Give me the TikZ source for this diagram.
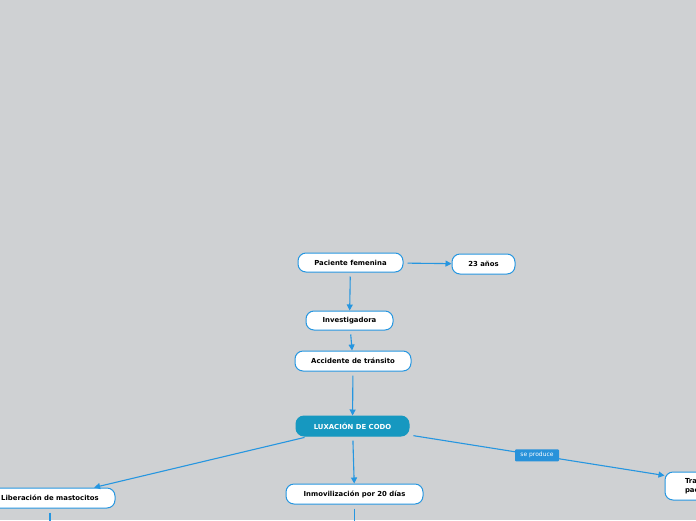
\documentclass[tikz,border=0pt]{standalone}
\usepackage{fontspec}
\setmainfont{DejaVu Sans}
\usetikzlibrary{arrows.meta}
\definecolor{bg}{RGB}{207,209,211}
\definecolor{lnblue}{RGB}{38,150,224}
\definecolor{teal}{RGB}{22,152,192}
\definecolor{lblblue}{RGB}{40,146,218}
\tikzset{
  box/.style={draw=lnblue, line width=1pt, fill=white, rounded corners=8pt, inner sep=0pt,
    font=\fontsize{6.9}{8}\selectfont\bfseries, align=center},
  mainbox/.style={box, fill=teal, draw=teal, text=white},
  arr/.style={draw=lnblue, line width=1.1pt, -{Triangle[length=6pt,width=6pt]}, shorten <=4pt},
  plain/.style={draw=lnblue, line width=1.1pt, shorten <=4pt},
  lbl/.style={fill=lblblue, text=white, inner sep=0pt, minimum width=44pt, minimum height=12pt,
    font=\fontsize{6}{7}\selectfont, rounded corners=1pt}
}
\begin{document}
\begin{tikzpicture}[x=1pt,y=-1pt]
\fill[bg] (0,0) rectangle (696,520);
\useasboundingbox (0,0) rectangle (696,520);
\node[box, minimum width=105pt, minimum height=19pt] (pac) at (350.5,262.5) {Paciente femenina};
\node[box, minimum width=63pt, minimum height=20pt] (age) at (483.5,264) {23 años};
\node[box, minimum width=87pt, minimum height=19pt] (inv) at (349.5,320.5) {Investigadora};
\node[box, minimum width=116pt, minimum height=20pt] (acc) at (353,361) {Accidente de tránsito};
\node[mainbox, minimum width=113pt, minimum height=20pt] (lux) at (352.5,426) {LUXACIÓN DE CODO};
\node[box, minimum width=137pt, minimum height=20pt] (inm) at (354.5,494) {Inmovilización por 20 días};
\node[box, minimum width=130pt, minimum height=20pt] (lib) at (50,498) {Liberación de mastocitos};
\node[box, minimum width=90pt, minimum height=28pt, align=left, text width=50pt, font=\fontsize{6.9}{8.5}\selectfont\bfseries] (tra) at (710,486) {Traumatismo\\paciente};
\coordinate (inmend) at (354.5,525);
\coordinate (libend) at (50,525);

\draw[arr] (pac) -- (age);
\draw[arr] (pac) -- (inv);
\draw[arr] (inv) -- (acc);
\draw[arr] (acc) -- (lux);
\draw[arr] (lux) -- (inm);
\draw[arr] (lux) -- (lib);
\draw[arr] (lux) -- (tra.167) node[lbl, pos=0.5] (sep) {se produce};
\draw[plain] (inm) -- (inmend);
\draw[plain] (lib) -- (libend);
\end{tikzpicture}
\end{document}
